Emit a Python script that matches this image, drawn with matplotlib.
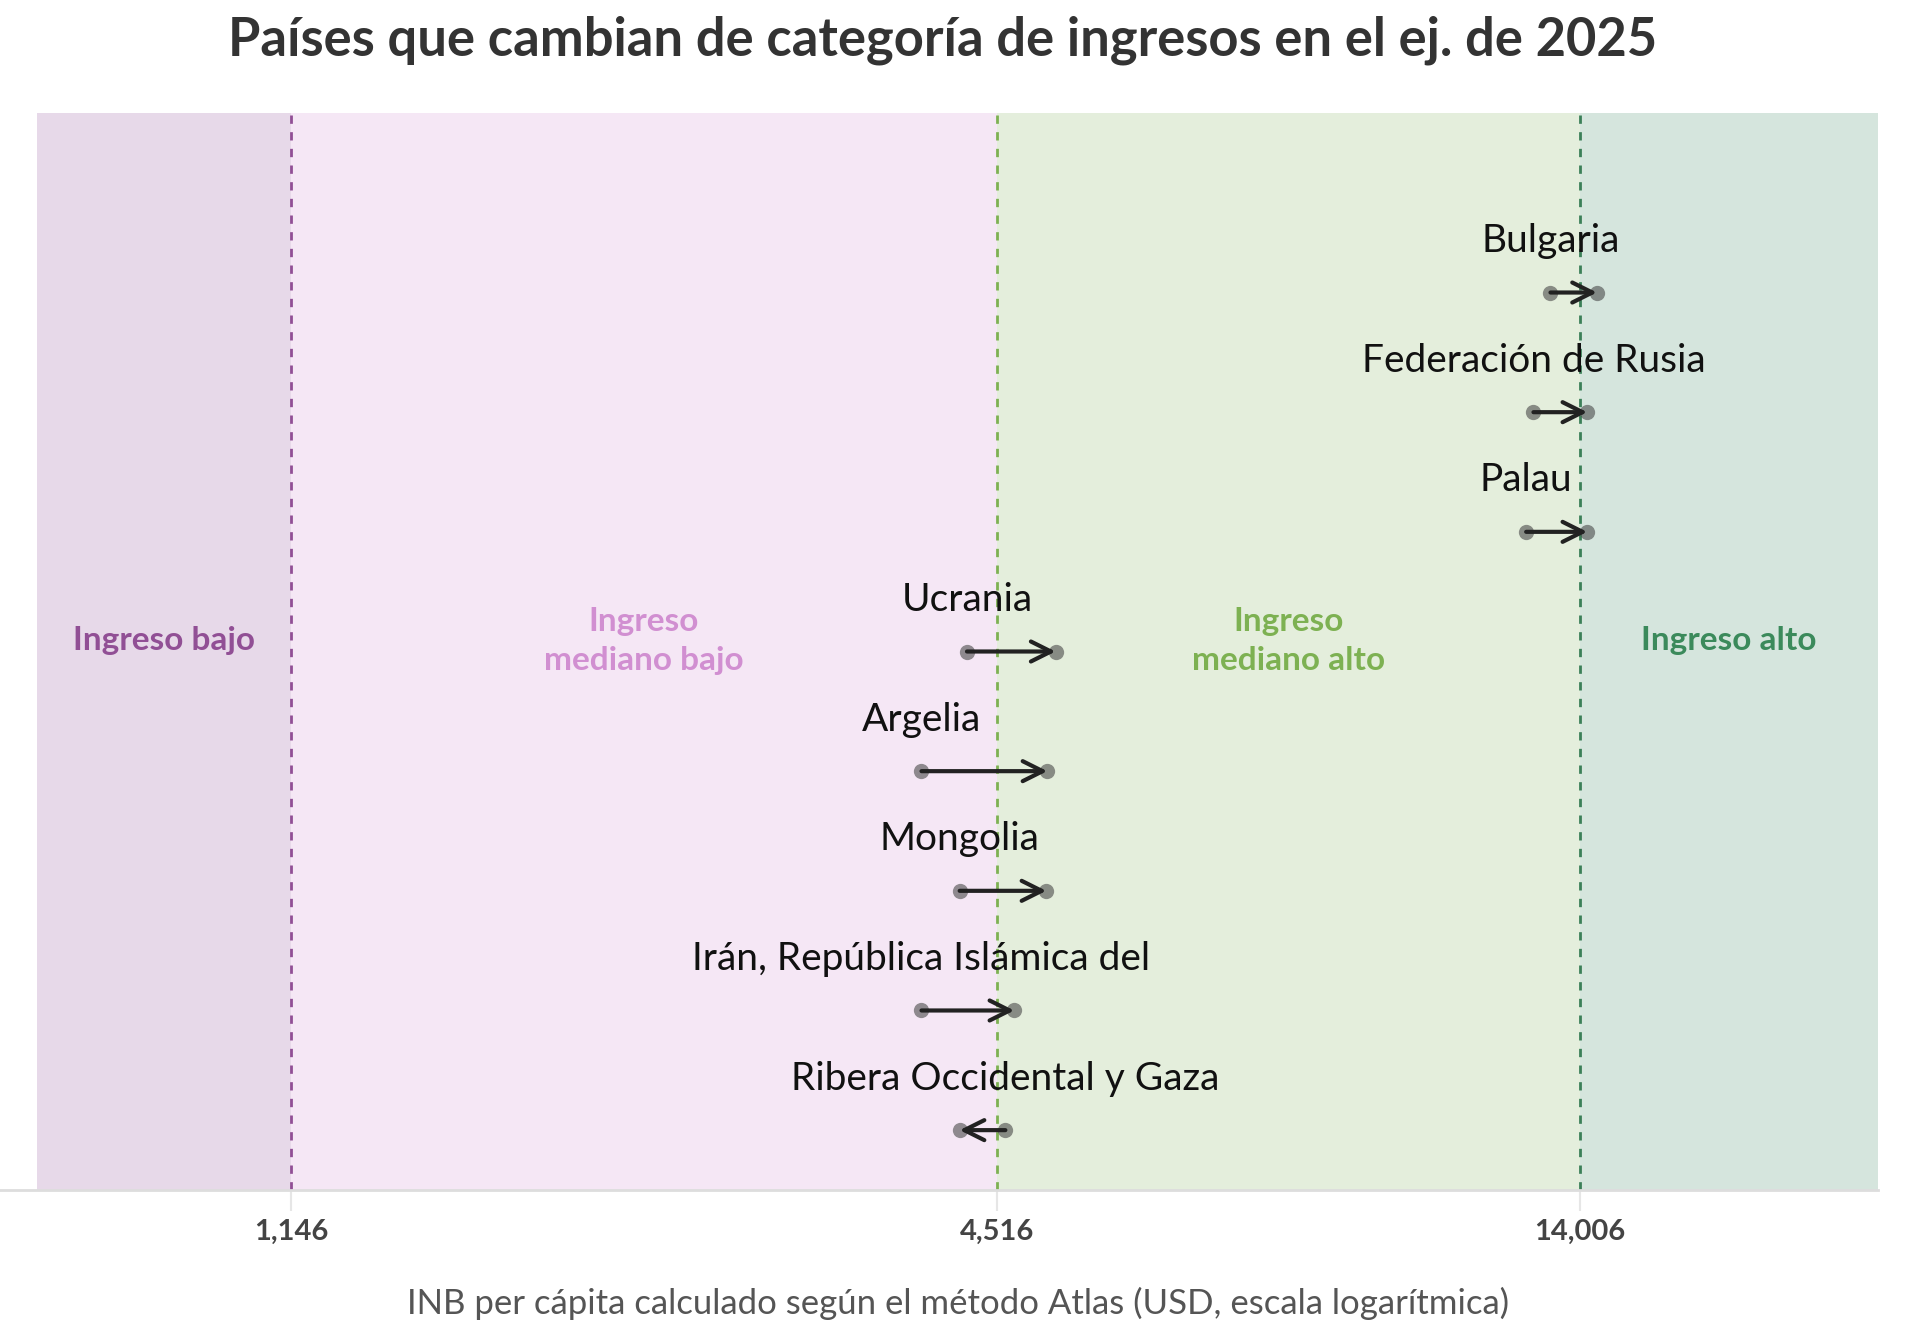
"""Countries changing income group, FY2025 (log GNI per capita)."""

import matplotlib.pyplot as plt
import matplotlib.ticker as mticker

plt.rcParams["font.family"] = ["Lato", "DejaVu Sans"]

countries = [
    "Bulgaria",
    "Federación de Rusia",
    "Palau",
    "Ucrania",
    "Argelia",
    "Mongolia",
    "Irán, República Islámica del",
    "Ribera Occidental y Gaza",
]
gni_old = [13230, 12800, 12620, 4260, 3900, 4200, 3900, 4590]
gni_new = [14480, 14210, 14210, 5060, 4980, 4970, 4670, 4200]

thresholds = [1146, 4516, 14006]
x_limits = [700, 25000]
group_names = ["Ingreso bajo", "Ingreso\nmediano bajo", "Ingreso\nmediano alto", "Ingreso alto"]
band_colors = ["#e7d9e9", "#f5e7f5", "#e4eedc", "#d5e5dd"]
label_colors = ["#914f95", "#d18fd1", "#7db152", "#3b8a5b"]
line_colors = ["#914f95", "#7db152", "#3b7f58"]

fig = plt.figure(figsize=(19.2, 13.36), dpi=100)
ax = fig.add_axes([0.0193, 0.1093, 0.9589, 0.8061])
ax.set_xscale("log")
ax.set_xlim(*x_limits)
ax.set_ylim(len(countries) - 0.5, -1.5)

edges = [x_limits[0]] + thresholds + [x_limits[1]]
for i, name in enumerate(group_names):
    lo, hi = edges[i], edges[i + 1]
    ax.axvspan(lo, hi, color=band_colors[i], lw=0, zorder=0)
    mid = (lo * hi) ** 0.5
    ax.text(mid, 0.51, name, transform=ax.get_xaxis_transform(), ha="center", va="center",
            fontsize=24, fontweight="bold", color=label_colors[i], linespacing=1.4)

for t, c in zip(thresholds, line_colors):
    ax.axvline(t, color=c, lw=2, ls=(0, (3, 3)), zorder=1)

for i, (name, a, b) in enumerate(zip(countries, gni_old, gni_new)):
    ax.plot([a, b], [i, i], "o", ms=11, color="#4a4a4a", alpha=0.6, mec="none", zorder=3)
    ax.annotate("", xy=(b, i), xytext=(a, i),
                arrowprops=dict(arrowstyle="->", lw=3, color="#222222",
                                mutation_scale=36, shrinkA=0, shrinkB=0),
                zorder=4)
    ax.text(a, i - 0.43, name, ha="center", va="center", fontsize=28, color="#111111")

ax.set_yticks([])
for side in ["left", "right", "top"]:
    ax.spines[side].set_visible(False)
ax.spines["bottom"].set_color("#dddddd")
ax.spines["bottom"].set_linewidth(2)
ax.spines["bottom"].set_bounds(x_limits[0] * 0.93, x_limits[1])

ax.xaxis.set_major_locator(mticker.FixedLocator(thresholds))
ax.xaxis.set_minor_locator(mticker.NullLocator())
ax.set_xticklabels([f"{t:,}" for t in thresholds])
ax.tick_params(axis="x", length=15, width=1.5, color="#e6e6e6", pad=6,
               labelsize=21, labelcolor="#444444")
for lab in ax.get_xticklabels():
    lab.set_fontweight("bold")

ax.set_xlabel("INB per cápita calculado según el método Atlas (USD, escala logarítmica)",
              fontsize=25, color="#555555", labelpad=30)

fig.text(0.491, 0.970, "Países que cambian de categoría de ingresos en el ej. de 2025",
         ha="center", va="center", fontsize=37.8, fontweight="bold", color="#333333")

fig.savefig("out.png", dpi=100, facecolor="white")
